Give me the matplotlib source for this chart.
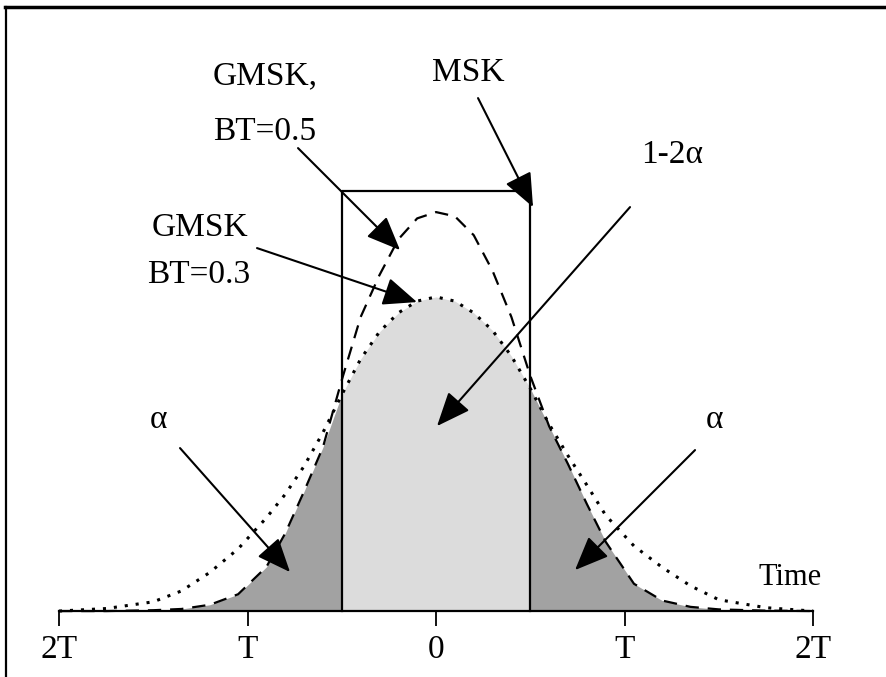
import numpy as np
import matplotlib
matplotlib.use("Agg")
import matplotlib.pyplot as plt
from matplotlib.lines import Line2D

# ---- data (time in units of T, amplitude relative to MSK pulse height) ----
t = [-2.0, -1.75, -1.5, -1.35, -1.2, -1.05, -0.9, -0.8, -0.7, -0.6, -0.5, -0.4,
     -0.3, -0.2, -0.1, 0.0, 0.1, 0.2, 0.3, 0.4, 0.5, 0.6, 0.7, 0.8, 0.9, 1.05,
     1.2, 1.35, 1.5, 1.75, 2.0]
gmsk03 = [0.0, 0.006, 0.022, 0.048, 0.092, 0.148, 0.222, 0.278, 0.345, 0.425, 0.515,
          0.60, 0.665, 0.71, 0.738, 0.748, 0.738, 0.71, 0.668, 0.607, 0.53, 0.445,
          0.37, 0.30, 0.228, 0.155, 0.104, 0.06, 0.027, 0.008, 0.0]
gmsk05 = [0.0, 0.0, 0.002, 0.005, 0.015, 0.04, 0.105, 0.185, 0.285, 0.39, 0.55, 0.70,
          0.80, 0.885, 0.935, 0.95, 0.94, 0.895, 0.81, 0.70, 0.56, 0.44, 0.35,
          0.255, 0.165, 0.065, 0.025, 0.01, 0.004, 0.001, 0.0]
msk_t = [-0.5, -0.5, 0.5, 0.5]
msk_h = [0.0, 1.0, 1.0, 0.0]
tick_pos = [-2, -1, 0, 1, 2]
tick_labels = ["2T", "T", "0", "T", "2T"]

plt.rcParams['font.family'] = ['Liberation Serif', 'DejaVu Serif']
fig = plt.figure(figsize=(8.86, 6.77), dpi=100)
ax = fig.add_axes([0, 0, 1, 1])
ax.set_xlim(-2.313, 2.387)
ax.set_ylim(-0.157, 1.455)

ta = np.array(t)
g3 = np.array(gmsk03)
g5 = np.array(gmsk05)

# shaded areas
inside = (ta >= -0.5) & (ta <= 0.5)
ax.fill_between(ta, 0, g3, where=inside, color='#dcdcdc', lw=0, zorder=1)
outer = np.minimum(g3, g5)
ax.fill_between(ta, 0, outer, where=ta <= -0.5, color='#a2a2a2', lw=0, zorder=1)
ax.fill_between(ta, 0, outer, where=ta >= 0.5, color='#a2a2a2', lw=0, zorder=1)

# curves
ax.plot(ta, g5, color='black', lw=1.6, linestyle=(0, (6, 4)), zorder=3)
ax.plot(ta, g3, color='black', lw=2.2, linestyle=(0, (1, 2.6)), zorder=3)
ax.plot(msk_t, msk_h, color='black', lw=1.6, zorder=4)

# time axis
for s in ['left', 'right', 'top']:
    ax.spines[s].set_visible(False)
ax.spines['bottom'].set_position(('data', 0))
ax.spines['bottom'].set_bounds(-2, 2)
ax.spines['bottom'].set_linewidth(1.6)
ax.spines['bottom'].set_zorder(5)
ax.set_xticks(tick_pos)
ax.set_xticklabels(tick_labels)
ax.tick_params(axis='x', direction='out', length=11, width=1.3, pad=6,
               labelsize=24, colors='black')
ax.set_yticks([])

ap = dict(arrowstyle='-|>,head_length=0.6,head_width=0.25', mutation_scale=35,
          lw=1.5, color='black', shrinkA=0, shrinkB=0)

def px(x, y):
    # convert reference pixel position to data coordinates
    return ((x - 436) / 188.5, (611 - y) / 420)

fs = 24
ax.text(*px(213, 76), "GMSK,", fontsize=fs, ha='left', va='center')
ax.text(*px(213, 132), "BT=0.5", fontsize=fs, ha='left', va='center')
ax.text(*px(468, 73), "MSK", fontsize=fs, ha='center', va='center')
ax.text(*px(672, 155), "1-2α", fontsize=fs, ha='center', va='center')
ax.text(*px(152, 228), "GMSK", fontsize=fs, ha='left', va='center')
ax.text(*px(147, 275), "BT=0.3", fontsize=fs, ha='left', va='center')
ax.text(*px(158, 420), "α", fontsize=fs, ha='center', va='center')
ax.text(*px(714, 420), "α", fontsize=fs, ha='center', va='center')
ax.text(*px(790, 577), "Time", fontsize=22, ha='center', va='center')

ax.annotate("", xy=px(400, 250), xytext=px(298, 148), arrowprops=ap, zorder=6)
ax.annotate("", xy=px(417, 302), xytext=px(257, 248), arrowprops=ap, zorder=6)
ax.annotate("", xy=px(533, 207), xytext=px(478, 98), arrowprops=ap, zorder=6)
ax.annotate("", xy=px(437, 426), xytext=px(630, 207), arrowprops=ap, zorder=6)
ax.annotate("", xy=px(290, 572), xytext=px(180, 448), arrowprops=ap, zorder=6)
ax.annotate("", xy=px(575, 570), xytext=px(695, 450), arrowprops=ap, zorder=6)

# frame around the figure (top and left edges)
fig.add_artist(Line2D([5 / 886, 1.0], [1 - 7 / 677, 1 - 7 / 677], color='black', lw=2.5))
fig.add_artist(Line2D([6 / 886, 6 / 886], [0.0, 1 - 7 / 677], color='black', lw=1.6))

fig.savefig("out.png", dpi=100)
